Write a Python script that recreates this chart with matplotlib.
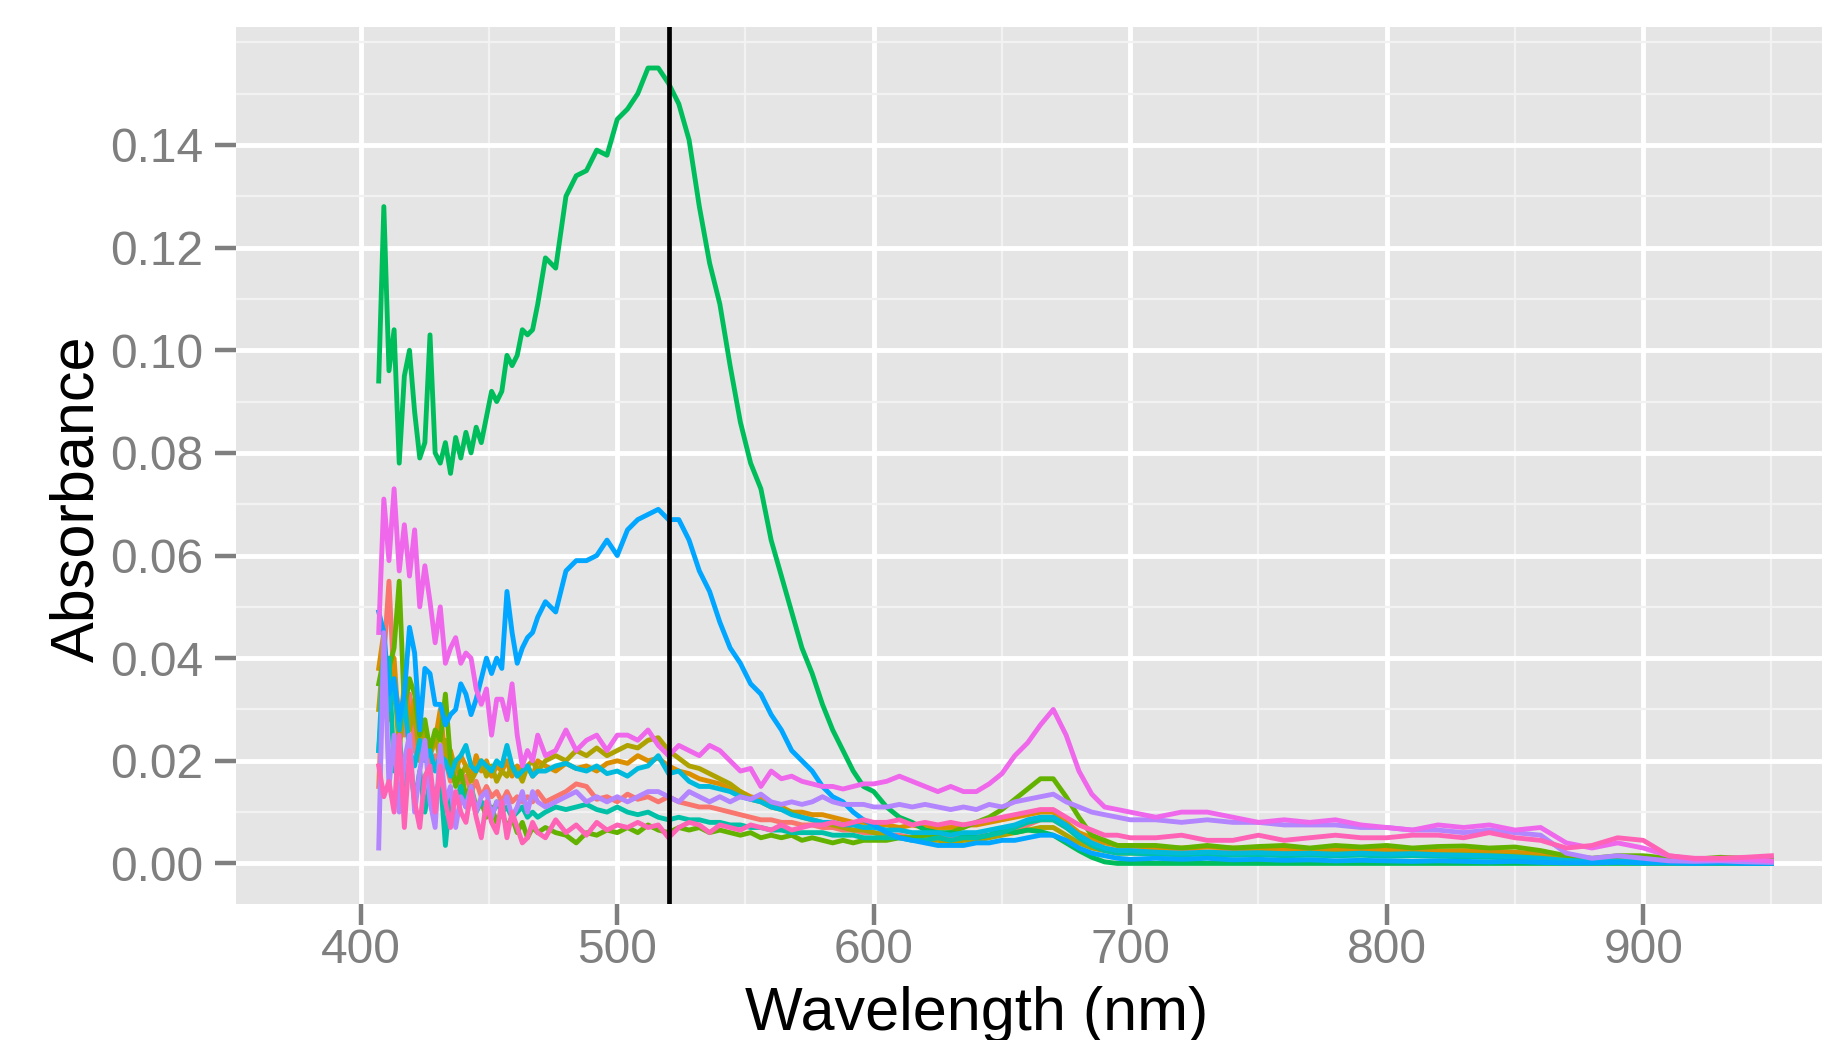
import matplotlib
matplotlib.use("Agg")
import matplotlib.pyplot as plt
from matplotlib.ticker import FixedLocator

plt.rcParams['font.family'] = ['Liberation Sans', 'DejaVu Sans']

# -----------------------------
# Data (absorbance in milli-units)
# -----------------------------
wavelength = [407, 409, 411, 413, 415, 417, 419, 421, 423, 425, 427, 429, 431, 433, 435, 437,
              439, 441, 443, 445, 447, 449, 451, 453, 455, 457, 459, 461, 463, 465, 467, 469,
              472, 476, 480, 484, 488, 492, 496, 500, 504, 508, 512, 516, 520, 524, 528, 532,
              536, 540, 544, 548, 552, 556, 560, 564, 568, 572, 576, 580, 584, 588, 592, 596, 600,
              605, 610, 615, 620, 625, 630, 635, 640, 645, 650, 655, 660, 665, 670, 675, 680,
              685, 690, 695, 700,
              710, 720, 730, 740, 750, 760, 770, 780, 790, 800, 810, 820, 830, 840, 850, 860,
              870, 880, 890, 900, 910, 920, 930, 940, 950]

s1 = [15, 40, 55, 35, 30, 25, 33, 22, 20, 24, 18, 21, 17, 20, 16, 19,
      15, 17, 14, 16, 13, 15, 13, 14, 12, 14, 12, 13, 12, 13, 12, 14,
      12, 13, 14, 15.5, 15, 12.5, 13, 12, 13.5, 12.5, 13, 12, 13, 12, 11.5, 11,
      11, 10.5, 10, 9.5, 9, 8.5, 8.5, 8, 8, 7.5, 7.5, 7, 7, 6.5, 6.5, 6, 6,
      5.5, 5.5, 5, 5, 5, 5, 5, 5.5, 5.5, 6, 6.5, 7.5, 8.5, 8.5, 7, 5.5,
      4, 3, 2.5, 2.5,
      2.5, 2.5, 2.2, 2.3, 2.4, 2.5, 2.4, 2.6, 2.5, 2.3, 2.4, 2.2, 2.3, 2.2, 2.0, 1.5,
      0.8, 0.5, 0.6, 0.5, 0.3, 0.3, 0.4, 0.2, 0.2]

s2 = [38, 45, 30, 40, 25, 35, 28, 32, 22, 27, 21, 24, 30, 20, 22, 18,
      21, 19, 17, 21, 18, 20, 17, 19, 18, 20, 17, 19, 18, 19, 17, 20,
      19, 18, 19.5, 18.5, 19, 18, 19.5, 20, 19.5, 21, 20, 20.5, 19, 18, 17.5, 16.5,
      16, 15.5, 14.5, 14, 13, 12.5, 11.5, 11, 10, 10, 9.5, 9.5, 9, 8.5, 8, 8, 7.5,
      7.5, 7, 7.5, 7, 7, 7, 7.5, 7.5, 8, 8.5, 9, 9.5, 10, 10, 8, 6,
      5, 4, 3.5, 3.5,
      3, 3, 3.2, 3, 2.8, 3, 2.7, 2.8, 2.6, 2.6, 2.5, 2.4, 2.5, 2.3, 2.2, 1.8,
      1.2, 0.8, 0.8, 0.6, 0.5, 0.6, 0.7, 0.5, 0.4]

s3 = [30, 42, 28, 36, 22, 32, 26, 30, 20, 26, 22, 25, 20, 24, 18, 20,
      17, 19, 16, 18, 20, 17, 19, 16, 18, 17, 19, 18, 16, 19, 20, 18,
      20, 21, 20, 22, 21, 22.5, 21, 22, 23, 22.5, 24, 24.5, 22, 20.5, 19, 18.5,
      17.5, 16.5, 15.5, 14, 12.5, 12, 11, 10.5, 10, 9, 8.5, 8, 7.5, 7, 6.5, 6.5, 6,
      5.5, 5, 5, 4.5, 4.5, 4, 4.5, 4.5, 5, 5.5, 6, 6.5, 7, 7, 5.5, 4,
      3, 2.5, 2, 2,
      2, 1.8, 2, 1.8, 1.9, 2, 1.8, 2, 1.9, 1.8, 1.9, 1.7, 1.8, 1.6, 1.5, 1.2,
      0.8, 0.6, 0.7, 0.5, 0.5, 0.4, 0.5, 0.4, 0.3]

s4 = [35, 40, 38, 42, 55, 30, 36, 33, 25, 28, 22, 26, 24, 33, 20, 15,
      18, 13, 15, 11, 12, 9, 11, 8, 10, 7, 9, 6, 8, 5, 7, 6,
      7, 6, 5.5, 4, 6, 5.5, 6.5, 6, 7, 6, 7.5, 6.5, 6, 7, 6.5, 7,
      6, 6.5, 6, 5.5, 6, 5, 5.5, 5, 5.5, 4.5, 5, 4.5, 4, 4.5, 4, 4.5, 4.5,
      4.5, 5, 5, 5.5, 5.5, 6, 7, 8, 9, 10.5, 12.5, 14.5, 16.5, 16.5, 13, 9,
      5.5, 4.5, 3.5, 3.5,
      3.5, 3, 3.5, 3, 3.3, 3.5, 3, 3.5, 3.2, 3.5, 3, 3.3, 3.4, 3, 3.2, 2.5,
      1.5, 1, 1.5, 1.5, 1, 0.8, 1.2, 1, 0.8]

s5 = [94, 128, 96, 104, 78, 95, 100, 88, 79, 82, 103, 80, 78, 82, 76, 83,
      79, 84, 80, 85, 82, 87, 92, 90, 92, 99, 97, 99, 104, 103, 104, 109,
      118, 116, 130, 134, 135, 139, 138, 145, 147, 150, 155, 155, 152, 148, 141, 128,
      117, 109, 97, 86, 78, 73, 63, 56, 49, 42, 37, 31, 26, 22, 18, 15, 14,
      11, 9, 8, 6.5, 6, 6, 5.5, 5, 5.5, 6.5, 6, 6.5, 6.2, 5.5, 4, 2.5,
      1.2, 0.3, 0, 0,
      0, 0, 0, 0, 0, 0, 0, 0, 0, 0, 0, 0, 0, 0, 0, 0,
      0, 0, 0, 0, 0, 0, 0, 0, 0]

s6 = [22, 35, 40, 18, 25, 14, 20, 12, 18, 10, 16, 13, 17, 3.5, 14, 12,
      15, 11, 13, 10, 12, 11, 9, 12, 10, 11, 9, 10, 11, 9, 10, 9,
      10, 11, 10.5, 11, 11.5, 10.5, 10, 11, 10, 9.5, 10, 9, 8.5, 9, 8.5, 8.5,
      8, 8, 7.5, 7.5, 7, 7, 6.5, 6.5, 6, 6, 6, 6, 5.5, 5.5, 5.5, 5, 5,
      5, 5, 4.5, 4.5, 5, 4.5, 5, 5, 5.5, 6, 7, 8, 8.5, 8.5, 7, 5,
      3.5, 2.5, 2, 2,
      1.8, 1.7, 1.8, 1.6, 1.7, 1.5, 1.6, 1.5, 1.6, 1.4, 1.5, 1.4, 1.3, 1.2, 1.1, 0.8,
      0.5, 0.3, 0.4, 0.3, 0.3, 0.2, 0.3, 0.2, 0.2]

s7 = [22, 42, 30, 35, 26, 32, 22, 19, 24, 20, 22, 18, 21, 20, 17, 20,
      21, 23, 19, 18, 20, 19, 18, 20, 19, 23, 19, 17, 18, 19, 17, 18,
      18, 19, 19.5, 18.5, 18, 19, 17.5, 18, 17, 18.5, 19, 21, 17.5, 18, 16, 15,
      15, 14.5, 14, 13, 12.5, 12, 11, 10.5, 9.5, 9, 8.5, 8, 8, 7.5, 7.5, 7, 7,
      6.5, 6.5, 6, 6, 6, 5.5, 6, 6, 6.5, 7, 7.5, 8.5, 9, 9, 7.5, 5.5,
      4, 3, 2.5, 2.5,
      2.2, 2, 2.2, 2, 2.1, 1.9, 2, 1.8, 2, 1.8, 1.9, 1.7, 1.6, 1.5, 1.3, 1,
      0.6, 0.4, 0.5, 0.4, 0.3, 0.3, 0.3, 0.2, 0.2]

s8 = [49, 45, 33, 36, 28, 33, 46, 41, 26, 38, 37, 31, 31, 27, 29, 30,
      35, 33, 29, 32, 36, 40, 37, 40, 38, 53, 45, 39, 42, 44, 45, 48,
      51, 49, 57, 59, 59, 60, 63, 60, 65, 67, 68, 69, 67, 67, 63, 57,
      53, 47, 42, 39, 35, 33, 29, 26, 22, 20, 18, 15, 13, 12, 10, 8.5, 7.5,
      6, 5, 4.5, 4, 3.5, 3.5, 3.5, 4, 4, 4.5, 4.5, 5, 5.5, 5.5, 4.5, 3,
      2, 1.5, 1, 0.8,
      1, 0.8, 1, 0.7, 0.8, 0.6, 0.7, 0.5, 0.6, 0.5, 0.4, 0.5, 0.4, 0.3, 0.4, 0.2,
      0.1, 0.1, 0.2, 0.1, 0.1, 0, 0.1, 0, 0]

s9 = [3, 45, 15, 25, 10, 20, 25, 10, 18, 24, 12, 7, 23, 12, 15, 7,
      13, 11, 15, 10, 13, 14, 9, 12, 11, 13, 9, 11, 14, 10, 14, 12,
      11, 12, 13, 14, 12, 13, 12, 13, 12, 13, 14, 14, 13, 12, 14, 13,
      12, 13, 12, 13, 12.5, 13.5, 12, 11.5, 12, 11.5, 12, 13, 12, 11.5, 11.5, 11.5, 11,
      11, 11.5, 11, 11.5, 11, 10.5, 11, 10.5, 11.5, 11, 12, 12.5, 13, 13.5, 12, 11,
      10, 9.5, 9, 8.5,
      8.5, 8, 8.5, 8, 8, 7.5, 7.5, 7.5, 7, 7, 6.5, 6.5, 6, 6.5, 6, 5.5,
      2, 1, 1.5, 1, 0.5, 0.4, 0.5, 0.3, 0.2]

s10 = [45, 71, 59, 73, 57, 66, 56, 65, 50, 58, 51, 43, 50, 39, 42, 44,
       39, 41, 40, 34, 31, 34, 25, 32, 32, 28, 35, 25, 19, 22, 20, 25,
       21, 22, 26, 22, 24, 25, 22, 25, 25, 24, 26, 23, 21, 23, 22, 21,
       23, 22, 20, 18, 18.5, 15, 18, 16.5, 17, 16, 15.5, 15, 15, 14.5, 15, 15.5, 15.5,
       16, 17, 16, 15, 14, 15, 14, 14, 15.5, 17.5, 21, 23.5, 27, 30, 25, 18,
       13.5, 11, 10.5, 10,
       9, 10, 10, 9, 8, 8.5, 8, 8.5, 7.5, 7, 6.5, 7.5, 7, 7.5, 6.5, 7,
       4, 3, 4, 3, 1.5, 0.8, 0.7, 0.8, 0.5]

s11 = [19, 13, 16, 10, 25, 7, 22, 12, 7, 17, 19, 10, 19, 12, 7, 14,
       10, 8, 14, 9, 5, 12, 8, 6, 12, 5, 10, 7, 4, 5, 8, 6,
       5, 8.5, 6, 7.5, 5.5, 8, 6.5, 7.5, 7, 8, 7, 7.5, 5, 7, 8, 7.5,
       6, 7.5, 7, 6.5, 7.5, 7, 6.5, 7.5, 6.5, 7, 7.5, 7.5, 8, 7.5, 8, 8.5, 8,
       8, 8.5, 7.5, 8, 7.5, 8, 7.5, 8, 8.5, 9, 9.5, 10, 10.5, 10.5, 9, 7.5,
       6.5, 5.5, 5.5, 5,
       5, 5.5, 4.5, 4.5, 5.5, 4.5, 5, 5.5, 5, 5, 5.5, 5.5, 5, 6, 5, 4.5,
       3, 3.5, 5, 4.5, 1.5, 1, 1, 1.2, 1.5]

series = [s1, s2, s3, s4, s5, s6, s7, s8, s9, s10, s11]
colors = ["#F8766D", "#DB8E00", "#AEA200", "#64B200", "#00BD5C", "#00C1A7",
          "#00BADE", "#00A6FF", "#B385FF", "#EF67EB", "#FF63B6"]

x_ticks = [400, 500, 600, 700, 800, 900]
x_minor = [450, 550, 650, 750, 850, 950]
y_ticks = [0.00, 0.02, 0.04, 0.06, 0.08, 0.10, 0.12, 0.14]
y_minor = [0.01, 0.03, 0.05, 0.07, 0.09, 0.11, 0.13, 0.15, 0.16]
marker_wl = 520

# -----------------------------
# Plot
# -----------------------------
fig = plt.figure(figsize=(18.22, 10.40), dpi=100)
ax = fig.add_axes([0.1293, 0.1308, 1 - 0.1293, 0.9736 - 0.1308])
ax.set_facecolor("#E5E5E5")

for vals, col in zip(series, colors):
    ax.plot(wavelength, [v / 1000 for v in vals], color=col, linewidth=3.5,
            solid_joinstyle="round", zorder=3)

ax.axvline(marker_wl, color="black", linewidth=3.4, zorder=4)

ax.set_xlim(351.2, 969.7)
ax.set_ylim(-0.0079, 0.1629)

ax.xaxis.set_major_locator(FixedLocator(x_ticks))
ax.xaxis.set_minor_locator(FixedLocator(x_minor))
ax.yaxis.set_major_locator(FixedLocator(y_ticks))
ax.yaxis.set_minor_locator(FixedLocator(y_minor))
ax.set_yticklabels(["%.2f" % t for t in y_ticks])

ax.grid(which="major", color="white", linewidth=3.5)
ax.grid(which="minor", color="#F2F2F2", linewidth=1.6)
ax.set_axisbelow(True)

for sp in ax.spines.values():
    sp.set_visible(False)

ax.tick_params(which="major", length=15, width=3.2, color="#7F7F7F",
               labelcolor="#7F7F7F", labelsize=34.5)
ax.tick_params(axis="y", pad=8.5)
ax.tick_params(axis="x", pad=2.5)
ax.tick_params(which="minor", length=0)

fig.text(977 / 1822, 1 - 1030 / 1040, "Wavelength (nm)", fontsize=44,
         ha="center", va="baseline", color="black")
fig.text(78 / 1822, 1 - 498.5 / 1040, "Absorbance", fontsize=44, rotation=90,
         ha="center", va="center", color="black")

fig.savefig("out.png", dpi=100)
plt.close()
